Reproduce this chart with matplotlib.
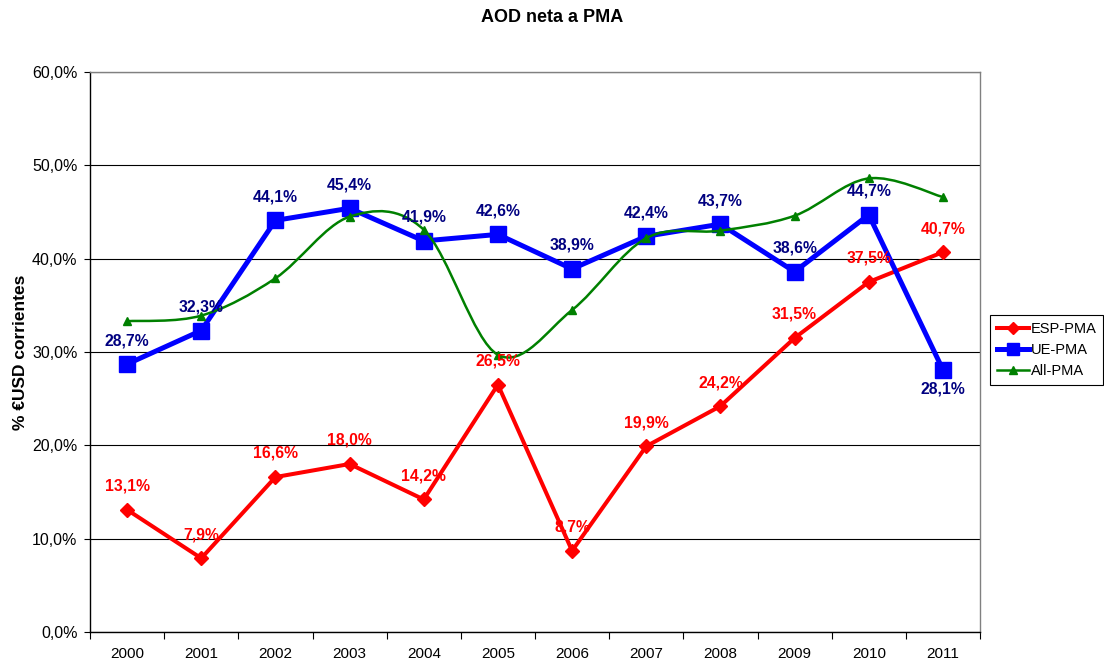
import numpy as np
import matplotlib
matplotlib.use("Agg")
import matplotlib.pyplot as plt
from matplotlib.path import Path
from matplotlib.patches import PathPatch
from matplotlib.lines import Line2D
from matplotlib.ticker import FuncFormatter, FixedLocator

plt.rcParams['font.family'] = ['Liberation Sans', 'DejaVu Sans']

years = ['2000', '2001', '2002', '2003', '2004', '2005',
         '2006', '2007', '2008', '2009', '2010', '2011']
esp_pma = [13.1, 7.9, 16.6, 18.0, 14.2, 26.5, 8.7, 19.9, 24.2, 31.5, 37.5, 40.7]
ue_pma = [28.7, 32.3, 44.1, 45.4, 41.9, 42.6, 38.9, 42.4, 43.7, 38.6, 44.7, 28.1]
all_pma = [33.3, 33.9, 37.9, 44.5, 43.1, 29.7, 34.5, 42.2, 43.0, 44.6, 48.6, 46.6]


def fmt_pct(v):
    return ('%.1f%%' % v).replace('.', ',')


def smooth_path(xs, ys):
    # excel-like smoothed line: cubic bezier with catmull-rom control points
    pts = np.column_stack([xs, ys]).astype(float)
    n = len(pts)
    verts = [pts[0]]
    codes = [Path.MOVETO]
    for i in range(n - 1):
        p0 = pts[i - 1] if i > 0 else pts[i]
        p1 = pts[i]
        p2 = pts[i + 1]
        p3 = pts[i + 2] if i + 2 < n else pts[i + 1]
        c1 = p1 + (p2 - p0) / 6.0
        c2 = p2 - (p3 - p1) / 6.0
        verts += [c1, c2, p2]
        codes += [Path.CURVE4] * 3
    return Path(verts, codes)


fig = plt.figure(figsize=(11.04, 6.63), dpi=100)
ax = fig.add_axes([90 / 1104, 31 / 663, 890 / 1104, 560 / 663])

x = np.arange(len(years))

ax.plot(x, esp_pma, color='#FF0000', lw=2.9, marker='D', ms=7.5,
        mec='#FF0000', mfc='#FF0000', zorder=3)
ax.plot(x, ue_pma, color='#0000FF', lw=3.6, marker='s', ms=11,
        mec='#0000FF', mfc='#0000FF', zorder=4)
ax.add_patch(PathPatch(smooth_path(x, all_pma), fc='none', ec='#008000',
                       lw=1.8, zorder=5))
ax.plot(x, all_pma, ls='none', marker='^', ms=6, color='#008000', zorder=5)

for i, v in enumerate(esp_pma):
    ax.annotate(fmt_pct(v), (x[i], v), xytext=(0, 17), textcoords='offset points',
                ha='center', va='center', fontsize=11.3, fontweight='bold',
                color='#FF0000', zorder=6)
for i, v in enumerate(ue_pma):
    dy = -14 if i == len(ue_pma) - 1 else 17
    ax.annotate(fmt_pct(v), (x[i], v), xytext=(0, dy), textcoords='offset points',
                ha='center', va='center', fontsize=11.3, fontweight='bold',
                color='#000080', zorder=6)

ax.set_xlim(-0.5, len(years) - 0.5)
ax.set_ylim(0, 60)
ax.set_yticks(np.arange(0, 61, 10))
ax.yaxis.set_major_formatter(FuncFormatter(lambda v, p: fmt_pct(v)))
ax.yaxis.grid(True, color='black', lw=0.8)
ax.set_axisbelow(True)

ax.xaxis.set_major_locator(FixedLocator(np.arange(-0.5, len(years), 1.0)))
ax.xaxis.set_minor_locator(FixedLocator(x))
ax.set_xticklabels([], minor=False)
ax.set_xticklabels(years, minor=True)
ax.tick_params(axis='x', which='major', direction='out', length=5, color='black')
ax.tick_params(axis='x', which='minor', length=0, pad=11, labelsize=11)
ax.tick_params(axis='y', direction='out', length=4, labelsize=11.5, pad=5)

ax.spines['left'].set_color('black')
ax.spines['bottom'].set_color('black')
ax.spines['right'].set_color('#808080')
ax.spines['top'].set_color('#808080')
for s in ax.spines.values():
    s.set_linewidth(1.0)

ax.set_ylabel('% €USD corrientes', fontsize=12.5, fontweight='bold')
ax.yaxis.set_label_coords(-62 / 890, 0.5)
fig.text(0.5, 1 - 17 / 663, 'AOD neta a PMA', ha='center', va='center',
         fontsize=13, fontweight='bold')

handles = [
    Line2D([], [], color='#FF0000', lw=2.9, marker='D', ms=6),
    Line2D([], [], color='#0000FF', lw=3.6, marker='s', ms=8),
    Line2D([], [], color='#008000', lw=1.8, marker='^', ms=6),
]
leg = fig.legend(handles, ['ESP-PMA', 'UE-PMA', 'All-PMA'],
                 loc='center left', bbox_to_anchor=(990 / 1104, 1 - 350 / 663),
                 fontsize=10.5, frameon=True, fancybox=False, framealpha=1,
                 edgecolor='black', borderpad=0.45, labelspacing=0.5,
                 handlelength=2.2, handletextpad=0.15, borderaxespad=0)
leg.get_frame().set_linewidth(0.8)

fig.savefig('out.png', dpi=100)
